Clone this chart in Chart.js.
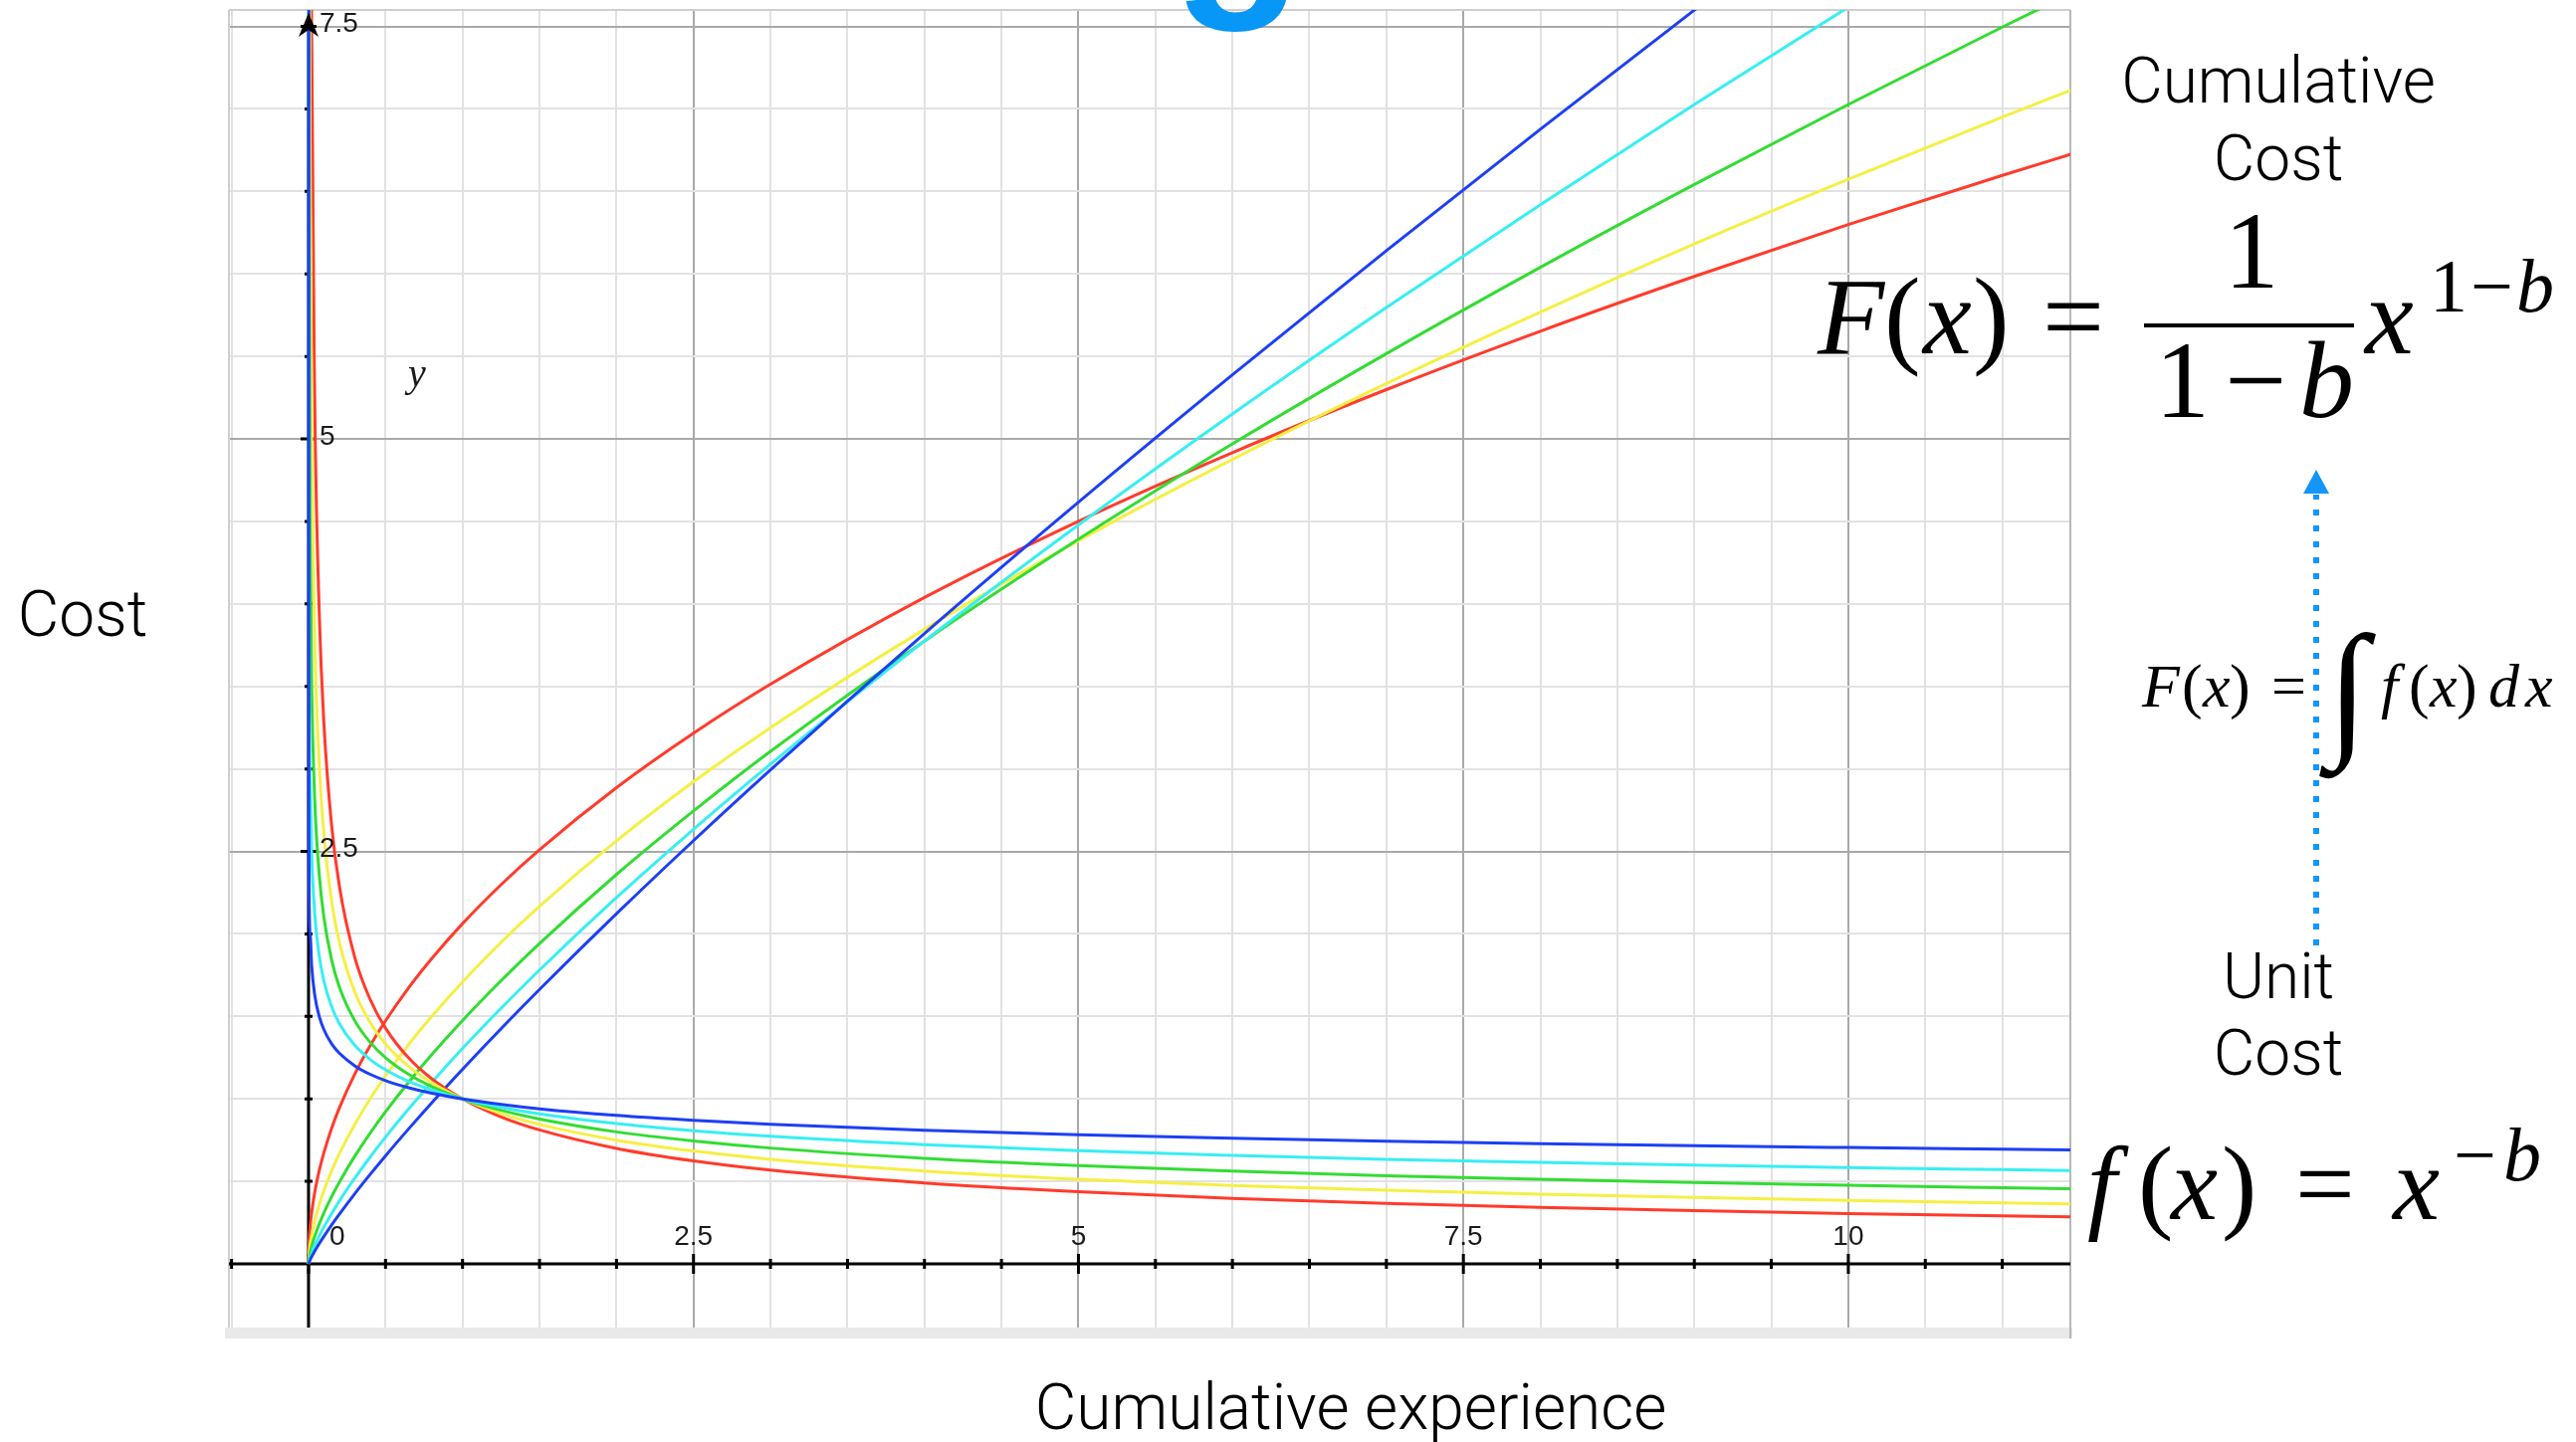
<!DOCTYPE html>
<html>
<head>
<meta charset="utf-8">
<title>Unit cost and cumulative cost</title>
<script src="https://cdn.jsdelivr.net/npm/chart.js@4.4.1/dist/chart.umd.min.js"></script>
<style>
  html, body { margin: 0; padding: 0; background: #fff; overflow: hidden; }
  #chart { display: block; }
</style>
</head>
<body>
<canvas id="chart" width="2588" height="1449"></canvas>
<script>
// Cumulative experience (x) sampled for all curves
const xValues = [0, 0.002, 0.01, 0.02, 0.04, 0.07, 0.1, 0.15, 0.2, 0.3, 0.4, 0.5, 0.65, 0.8, 1,
  1.25, 1.5, 2, 2.5, 3, 4, 5, 6, 7, 8, 9, 10, 11, 11.5];

// Unit cost f(x) = x^-b, one per learning rate (first value is off the top of the chart)
const unitBlue   = [60, 2.572, 2.014, 1.812, 1.631, 1.498, 1.419, 1.334, 1.277, 1.201, 1.149, 1.111, 1.068, 1.034, 1,
  0.967, 0.940, 0.900, 0.870, 0.846, 0.810, 0.783, 0.762, 0.744, 0.729, 0.716, 0.705, 0.695, 0.690];
const unitCyan   = [60, 4.281, 2.938, 2.498, 2.124, 1.863, 1.714, 1.559, 1.457, 1.325, 1.239, 1.176, 1.106, 1.054, 1,
  0.949, 0.909, 0.850, 0.807, 0.773, 0.723, 0.686, 0.658, 0.634, 0.615, 0.598, 0.583, 0.571, 0.565];
const unitGreen  = [60, 7.397, 4.405, 3.524, 2.819, 2.354, 2.099, 1.842, 1.679, 1.474, 1.343, 1.250, 1.149, 1.074, 1,
  0.931, 0.878, 0.800, 0.745, 0.702, 0.640, 0.596, 0.562, 0.534, 0.512, 0.493, 0.476, 0.462, 0.455];
const unitYellow = [60, 13.18, 6.761, 5.071, 3.803, 3.015, 2.600, 2.197, 1.950, 1.648, 1.463, 1.333, 1.196, 1.097, 1,
  0.912, 0.845, 0.750, 0.684, 0.634, 0.563, 0.513, 0.475, 0.446, 0.422, 0.402, 0.385, 0.370, 0.363];
const unitRed    = [60, 24.5, 10.72, 7.498, 5.247, 3.934, 3.273, 2.656, 2.291, 1.859, 1.603, 1.429, 1.248, 1.122, 1,
  0.891, 0.812, 0.700, 0.624, 0.568, 0.490, 0.437, 0.397, 0.367, 0.343, 0.323, 0.305, 0.291, 0.284];

// Cumulative cost F(x)
const cumBlue   = [0, 0.006, 0.024, 0.043, 0.077, 0.124, 0.167, 0.236, 0.301, 0.425, 0.542, 0.655, 0.818, 0.976, 1.179,
  1.425, 1.663, 2.122, 2.565, 2.994, 3.821, 4.617, 5.389, 6.141, 6.877, 7.599, 8.309, 9.009, 9.355];
const cumCyan   = [0, 0.011, 0.038, 0.065, 0.111, 0.170, 0.224, 0.305, 0.381, 0.519, 0.647, 0.768, 0.939, 1.100, 1.306,
  1.549, 1.781, 2.220, 2.634, 3.029, 3.775, 4.479, 5.151, 5.796, 6.420, 7.027, 7.617, 8.194, 8.477];
const cumGreen  = [0, 0.022, 0.065, 0.104, 0.166, 0.243, 0.310, 0.408, 0.495, 0.652, 0.793, 0.922, 1.101, 1.268, 1.475,
  1.716, 1.942, 2.360, 2.745, 3.106, 3.775, 4.392, 4.970, 5.517, 6.040, 6.542, 7.027, 7.496, 7.725];
const cumYellow = [0, 0.045, 0.116, 0.173, 0.260, 0.361, 0.445, 0.563, 0.667, 0.845, 1.000, 1.140, 1.329, 1.500, 1.709,
  1.948, 2.167, 2.564, 2.922, 3.250, 3.846, 4.383, 4.876, 5.336, 5.769, 6.182, 6.574, 6.951, 7.134];
const cumRed    = [0, 0.101, 0.221, 0.309, 0.433, 0.568, 0.675, 0.822, 0.945, 1.150, 1.322, 1.473, 1.673, 1.850, 2.062,
  2.298, 2.510, 2.886, 3.216, 3.513, 4.039, 4.501, 4.917, 5.299, 5.653, 5.985, 6.299, 6.597, 6.741];

const xTickLabels = ['0', '2.5', '5', '7.5', '10'];
const yTickLabels = ['2.5', '5', '7.5'];

const colors = {
  blue: '#1d3ff4',
  cyan: '#38eef2',
  green: '#33dc33',
  yellow: '#f5ef45',
  red: '#ff3b2c'
};

function toPoints(ys) {
  return xValues.map((x, i) => ({ x: x, y: ys[i] }));
}

function line(ys, color) {
  return {
    data: toPoints(ys),
    borderColor: color,
    borderWidth: 3,
    pointRadius: 0,
    fill: false,
    cubicInterpolationMode: 'monotone'
  };
}

const isMajor = v => Math.abs(v / 2.5 - Math.round(v / 2.5)) < 1e-6;

// text in a given font at explicit x positions
function glyphs(ctx, parts, baseline, size) {
  parts.forEach(p => {
    ctx.font = (p.i ? 'italic ' : '') + size + 'px "Liberation Serif", "Times New Roman", serif';
    ctx.fillText(p.t, p.x, baseline);
  });
}

const decor = {
  id: 'decor',
  beforeDraw(chart) {
    const { ctx, chartArea: a } = chart;
    ctx.save();
    ctx.fillStyle = '#ffffff';
    ctx.fillRect(0, 0, chart.width, chart.height);
    // grey strip under the plot
    ctx.fillStyle = '#e9e9e9';
    ctx.fillRect(a.left - 4, a.bottom, a.right - a.left + 6, 11);
    ctx.restore();
  },
  beforeDatasetsDraw(chart) {
    const { ctx, chartArea: a, scales: { x, y } } = chart;
    const x0 = x.getPixelForValue(0);
    const y0 = y.getPixelForValue(0);
    ctx.save();
    // frame
    ctx.strokeStyle = '#cfcfcf';
    ctx.lineWidth = 2;
    ctx.beginPath();
    ctx.moveTo(a.left, a.top); ctx.lineTo(a.right, a.top);
    ctx.moveTo(a.left, a.top); ctx.lineTo(a.left, a.bottom);
    ctx.stroke();
    ctx.strokeStyle = '#b8b8b8';
    ctx.beginPath();
    ctx.moveTo(a.right, a.top); ctx.lineTo(a.right, a.bottom + 11);
    ctx.stroke();

    // axes
    ctx.strokeStyle = '#000';
    ctx.lineWidth = 3;
    ctx.beginPath();
    ctx.moveTo(a.left, y0); ctx.lineTo(a.right, y0);
    ctx.moveTo(x0, a.top + 14); ctx.lineTo(x0, a.bottom);
    ctx.stroke();

    // tick marks every 0.5
    ctx.beginPath();
    for (let v = -0.5; v <= 11.4; v += 0.5) {
      const px = x.getPixelForValue(v);
      const h = isMajor(v) ? 10 : 5;
      ctx.moveTo(px, y0 - h); ctx.lineTo(px, y0 + h);
    }
    for (let v = 0.5; v <= 7.5; v += 0.5) {
      const py = y.getPixelForValue(v);
      const h = isMajor(v) ? 8 : 4;
      ctx.moveTo(x0 - h, py); ctx.lineTo(x0 + h, py);
    }
    ctx.stroke();
    ctx.restore();
  },
  afterDatasetsDraw(chart) {
    const { ctx, scales: { x, y }, chartArea: a } = chart;
    const x0 = x.getPixelForValue(0);
    const y0 = y.getPixelForValue(0);
    ctx.save();
    // arrow head at top of y axis
    ctx.fillStyle = '#000';
    ctx.beginPath();
    ctx.moveTo(x0, a.top + 3);
    ctx.lineTo(x0 - 10, a.top + 27);
    ctx.lineTo(x0, a.top + 20);
    ctx.lineTo(x0 + 10, a.top + 27);
    ctx.closePath();
    ctx.fill();

    // tick labels
    ctx.fillStyle = '#1a1a1a';
    ctx.font = '28px "Liberation Sans", Arial, sans-serif';
    ctx.textBaseline = 'alphabetic';
    xTickLabels.forEach(t => {
      const v = parseFloat(t);
      ctx.textAlign = v === 0 ? 'left' : 'center';
      const px = v === 0 ? x0 + 21 : x.getPixelForValue(v);
      ctx.fillText(t, px, y0 - 19);
    });
    ctx.textAlign = 'left';
    ctx.textBaseline = 'middle';
    yTickLabels.forEach(t => {
      ctx.fillText(t, x0 + 11, y.getPixelForValue(parseFloat(t)) - 2);
    });

    ctx.textBaseline = 'alphabetic';
    ctx.font = 'italic 40px "Liberation Serif", serif';
    ctx.fillText('y', 410, 388);
    ctx.restore();
  },
  afterDraw(chart) {
    const { ctx } = chart;
    ctx.save();
    ctx.textBaseline = 'alphabetic';

    // cut-off title letter at the very top
    ctx.fillStyle = '#0797f7';
    ctx.font = 'bold 215px "Liberation Sans", Arial, sans-serif';
    ctx.textAlign = 'left';
    ctx.fillText('g', 1178, -14);

    // plain labels
    ctx.fillStyle = '#000';
    ctx.textAlign = 'center';
    ctx.font = '300 64px Roboto, "Liberation Sans", sans-serif';
    ctx.fillText('Cost', 83, 639);
    ctx.fillText('Cumulative experience', 1357, 1436);
    ctx.fillText('Cumulative', 2289, 103);
    ctx.fillText('Cost', 2289, 181);
    ctx.fillText('Unit', 2289, 1003);
    ctx.fillText('Cost', 2289, 1080);

    // F(x) = 1/(1-b) x^(1-b)
    ctx.textAlign = 'left';
    glyphs(ctx, [
      { t: 'F', x: 1826, i: true }, { t: '(', x: 1893 }, { t: 'x', x: 1932, i: true }, { t: ')', x: 1982 },
      { t: '=', x: 2052 }, { t: 'x', x: 2376, i: true }
    ], 355, 110);
    ctx.textAlign = 'center';
    glyphs(ctx, [{ t: '1', x: 2262 }], 289, 110);
    ctx.textAlign = 'left';
    glyphs(ctx, [{ t: '1', x: 2165 }, { t: '\u2212', x: 2235 }, { t: 'b', x: 2310, i: true }], 419, 110);
    ctx.fillRect(2154, 325, 211, 4);
    glyphs(ctx, [{ t: '1', x: 2441 }, { t: '\u2212', x: 2482 }, { t: 'b', x: 2528, i: true }], 313, 76);

    // F(x) = ∫ f(x) dx
    glyphs(ctx, [
      { t: 'F', x: 2152, i: true }, { t: '(', x: 2192 }, { t: 'x', x: 2213, i: true }, { t: ')', x: 2240 },
      { t: '=', x: 2282 },
      { t: 'f', x: 2392, i: true }, { t: '(', x: 2420 }, { t: 'x', x: 2441, i: true }, { t: ')', x: 2468 },
      { t: 'd', x: 2500, i: true }, { t: 'x', x: 2537, i: true }
    ], 710, 62);
    glyphs(ctx, [{ t: '\u222B', x: 2338 }], 742, 150);

    // f(x) = x^-b
    glyphs(ctx, [
      { t: 'f', x: 2097, i: true }, { t: '(', x: 2148 }, { t: 'x', x: 2181, i: true }, { t: ')', x: 2232 },
      { t: '=', x: 2306 }, { t: 'x', x: 2404, i: true }
    ], 1225, 106);
    glyphs(ctx, [{ t: '\u2212', x: 2465 }, { t: 'b', x: 2515, i: true }], 1186, 76);

    // dotted arrow from unit cost up to cumulative cost
    ctx.strokeStyle = '#1296f7';
    ctx.fillStyle = '#1296f7';
    ctx.lineWidth = 6;
    ctx.setLineDash([6, 10]);
    ctx.beginPath();
    ctx.moveTo(2327, 950);
    ctx.lineTo(2327, 497);
    ctx.stroke();
    ctx.setLineDash([]);
    ctx.beginPath();
    ctx.moveTo(2327, 472);
    ctx.lineTo(2340, 496);
    ctx.lineTo(2314, 496);
    ctx.closePath();
    ctx.fill();
    ctx.restore();
  }
};

const chart = new Chart(document.getElementById('chart'), {
  type: 'line',
  data: {
    datasets: [
      line(unitBlue, colors.blue),
      line(unitCyan, colors.cyan),
      line(unitGreen, colors.green),
      line(unitYellow, colors.yellow),
      line(unitRed, colors.red),
      line(cumBlue, colors.blue),
      line(cumCyan, colors.cyan),
      line(cumGreen, colors.green),
      line(cumYellow, colors.yellow),
      line(cumRed, colors.red)
    ]
  },
  options: {
    responsive: false,
    devicePixelRatio: 1,
    animation: false,
    layout: { padding: { left: 230, right: 508, top: 10, bottom: 115 } },
    plugins: { legend: { display: false }, tooltip: { enabled: false } },
    scales: {
      x: {
        type: 'linear',
        min: -0.517,
        max: 11.442,
        border: { display: false },
        ticks: { display: false, stepSize: 0.5, includeBounds: false },
        grid: {
          drawTicks: false,
          lineWidth: 2,
          color: c => isMajor(c.tick.value) ? '#a9a9a9' : '#e2e2e2'
        }
      },
      y: {
        type: 'linear',
        min: -0.386,
        max: 7.6,
        border: { display: false },
        ticks: { display: false, stepSize: 0.5, includeBounds: false },
        grid: {
          drawTicks: false,
          lineWidth: 2,
          color: c => isMajor(c.tick.value) ? '#a9a9a9' : '#e2e2e2'
        }
      }
    }
  },
  plugins: [decor]
});
</script>
</body>
</html>
